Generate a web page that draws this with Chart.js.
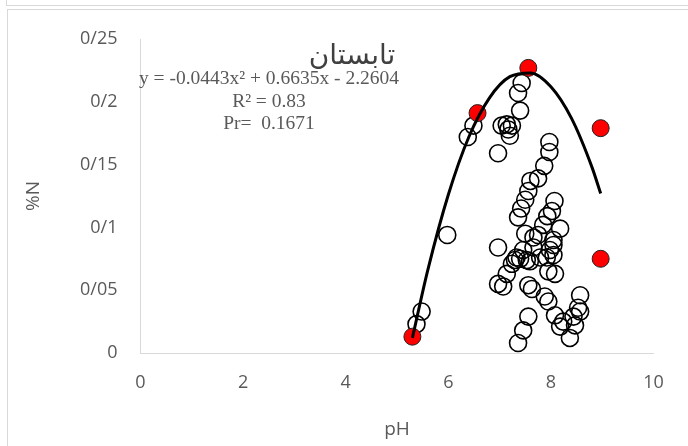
<!DOCTYPE html>
<html lang="fa">
<head>
    <meta charset="UTF-8">
    <title>pH - %N</title>
    <script src="https://cdn.jsdelivr.net/npm/chart.js@4.4.1/dist/chart.umd.min.js"></script>
    <style>
        html, body { margin: 0; padding: 0; background: #fff; overflow: hidden; }
        .prev-box { position: absolute; left: 6px; top: -10px; width: 700px; height: 14px; border: 1px solid #d9d9d9; }
        .frame { position: absolute; left: 7px; top: 9px; width: 700px; height: 460px; border: 1px solid #d9d9d9; }
        .wrap { position: absolute; left: 0; top: 0; width: 688px; height: 446px; }
    </style>
</head>
<body>
    <div class="prev-box"></div>
    <div class="frame"></div>
    <div class="wrap"><canvas id="scatter"></canvas></div>

    <script>
        // summer samples: pH vs %N (open circles)
        const openPH = [5.48, 5.38, 5.98, 6.49, 6.38, 7.43, 7.36, 7.40, 7.04, 7.14, 7.24, 7.17, 7.20, 6.97,
            7.97, 7.97, 7.87, 7.75, 7.60, 7.56, 7.50, 7.42, 7.36, 8.07, 8.02, 7.93, 8.18, 7.85, 8.05, 7.75,
            7.66, 7.50, 6.97, 7.46, 7.66, 7.98, 7.79, 7.33, 7.30, 7.40, 7.53, 7.24, 7.92, 8.05, 8.05, 7.59,
            7.95, 8.08, 7.14, 6.97, 7.07, 7.56, 7.63, 7.88, 7.95, 8.08, 8.18, 7.56, 7.46, 7.36,
            8.57, 8.53, 8.57, 8.44, 8.47, 8.37, 8.24];
        const openN = [0.033, 0.023, 0.094, 0.181, 0.172, 0.215, 0.207, 0.193, 0.181, 0.182, 0.181, 0.178, 0.173, 0.159,
            0.168, 0.160, 0.149, 0.139, 0.137, 0.129, 0.122, 0.115, 0.108, 0.121, 0.113, 0.109, 0.099, 0.102, 0.090, 0.094,
            0.092, 0.095, 0.084, 0.082, 0.084, 0.082, 0.076, 0.076, 0.074, 0.075, 0.074, 0.071, 0.076, 0.078, 0.086, 0.073,
            0.065, 0.063, 0.063, 0.055, 0.053, 0.054, 0.051, 0.045, 0.041, 0.030, 0.021, 0.029, 0.018, 0.008,
            0.046, 0.036, 0.033, 0.029, 0.022, 0.012, 0.025];

        // highlighted samples (red)
        const redPH = [5.30, 6.57, 7.56, 8.97, 8.97];
        const redN = [0.013, 0.191, 0.227, 0.179, 0.075];

        // trendline
        const trendPH = [5.30, 5.6, 6.0, 6.4, 6.8, 7.2, 7.6, 8.0, 8.4, 8.8, 8.97];
        const trendN = [0.012, 0.066, 0.126, 0.172, 0.203, 0.220, 0.223, 0.212, 0.187, 0.148, 0.127];

        const yTickLabels = ['0', '0/05', '0/1', '0/15', '0/2', '0/25'];
        const chartTitle = 'تابستان';
        const eqLines = ['y = -0.0443x\u00B2 + 0.6635x - 2.2604', 'R\u00B2 = 0.83', 'Pr=  0.1671'];

        const toPoints = (xs, ys) => xs.map((x, i) => ({ x: x, y: ys[i] }));

        const textPlugin = {
            id: 'textPlugin',
            afterDatasetsDraw(chart) {
                const ctx = chart.ctx;
                ctx.save();
                ctx.textAlign = 'center';
                ctx.textBaseline = 'middle';
                ctx.fillStyle = '#404040';
                ctx.font = '28px "DejaVu Sans"';
                ctx.fillText(chartTitle, 352, 57);
                ctx.fillStyle = '#595959';
                ctx.font = '19.5px "Liberation Serif"';
                eqLines.forEach((t, i) => ctx.fillText(t, 269, 79 + i * 22.5));
                ctx.restore();
            }
        };

        const tickFont = { family: 'Open Sans', size: 18 };
        const titleFont = { family: 'Open Sans', size: 19 };

        new Chart(document.getElementById('scatter'), {
            type: 'scatter',
            data: {
                datasets: [
                    {
                        label: 'trend',
                        data: toPoints(trendPH, trendN),
                        showLine: true,
                        borderColor: '#000',
                        borderWidth: 3,
                        pointRadius: 0,
                        cubicInterpolationMode: 'monotone'
                    },
                    {
                        label: 'red',
                        data: toPoints(redPH, redN),
                        backgroundColor: '#ff0000',
                        borderColor: '#222',
                        borderWidth: 1,
                        pointRadius: 8.5
                    },
                    {
                        label: 'samples',
                        data: toPoints(openPH, openN),
                        backgroundColor: 'rgba(0,0,0,0)',
                        borderColor: '#000',
                        borderWidth: 1.6,
                        pointRadius: 8.5
                    }
                ]
            },
            options: {
                responsive: true,
                maintainAspectRatio: false,
                animation: false,
                layout: { padding: { left: 0, top: 39, right: 34.5, bottom: 0 } },
                plugins: {
                    legend: { display: false },
                    tooltip: { enabled: false }
                },
                scales: {
                    x: {
                        type: 'linear',
                        min: 0,
                        max: 10,
                        ticks: { stepSize: 2, padding: 19, color: '#595959', font: tickFont },
                        grid: { display: false, drawTicks: false },
                        border: { display: true, color: '#d9d9d9', width: 1 },
                        title: { display: true, text: 'pH', color: '#595959', font: titleFont, padding: { top: 0, bottom: 5 } },
                        afterFit(scale) { scale.height = 93; }
                    },
                    y: {
                        min: 0,
                        max: 0.25,
                        ticks: {
                            stepSize: 0.05,
                            padding: 23,
                            color: '#595959',
                            font: tickFont,
                            callback: (v, i) => yTickLabels[i]
                        },
                        grid: { display: false, drawTicks: false },
                        border: { display: true, color: '#d9d9d9', width: 1 },
                        title: { display: true, text: '%N', color: '#595959', font: titleFont, padding: { top: 22, bottom: 0 } },
                        afterFit(scale) { scale.width = 140.5; }
                    }
                }
            },
            plugins: [textPlugin]
        });
    </script>
</body>
</html>
